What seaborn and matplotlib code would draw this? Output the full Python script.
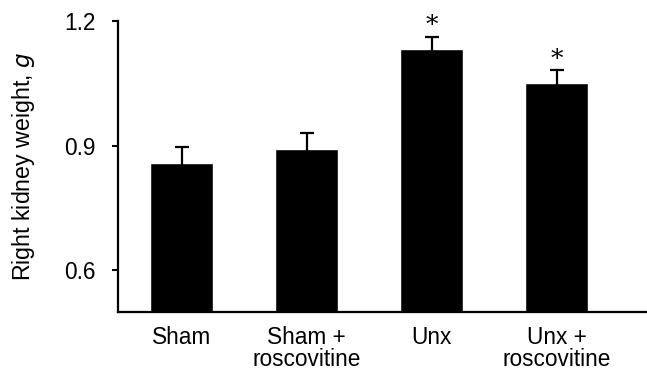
import matplotlib
matplotlib.use("Agg")
import matplotlib.pyplot as plt
import seaborn as sns
import pandas as pd

# group means and SEM
groups = ["Sham", "Sham +\nroscovitine", "Unx", "Unx +\nroscovitine"]
means = [0.859, 0.892, 1.132, 1.052]
sem = [0.039, 0.038, 0.029, 0.029]
signif = [False, False, True, True]

sns.set_style("ticks")
plt.rcParams["font.family"] = ["Liberation Sans", "DejaVu Sans"]
plt.rcParams["text.color"] = "black"
plt.rcParams["axes.labelcolor"] = "black"
plt.rcParams["xtick.color"] = "black"
plt.rcParams["ytick.color"] = "black"
plt.rcParams["axes.edgecolor"] = "black"

df = pd.DataFrame({"group": groups, "weight": means})

fig = plt.figure(figsize=(6.47, 3.73), dpi=100)
ax = fig.add_axes([0.1824, 0.1635, 0.8176, 0.7802])

sns.barplot(data=df, x="group", y="weight", color="black", width=0.51,
            errorbar=None, ax=ax, saturation=1)
ax.errorbar(range(len(groups)), means, yerr=sem, fmt="none", ecolor="black",
            elinewidth=1.6, capsize=5, capthick=1.6)

for i, (m, e, s) in enumerate(zip(means, sem, signif)):
    if s:
        ax.text(i, m + e + 0.027, "*", ha="center", va="center", fontsize=18,
                family="DejaVu Serif", clip_on=False)

ax.set_ylim(0.5, 1.2)
ax.set_xlim(-0.508, 3.724)
ax.set_yticks([0.6, 0.9, 1.2])
ax.set_yticklabels(["0.6", "0.9", "1.2"])
ax.set_xlabel("")
ax.set_ylabel("Right kidney weight, $\\it{g}$", fontsize=16.7, labelpad=20)
ax.tick_params(axis="y", labelsize=16.3, length=4, width=1.5, pad=12)
ax.tick_params(axis="x", labelsize=16.3, length=0, pad=10)
for lab in ax.get_xticklabels():
    lab.set_linespacing(0.95)
sns.despine(ax=ax)
for sp in ["left", "bottom"]:
    ax.spines[sp].set_linewidth(1.6)

fig.savefig("out.png", dpi=100)
